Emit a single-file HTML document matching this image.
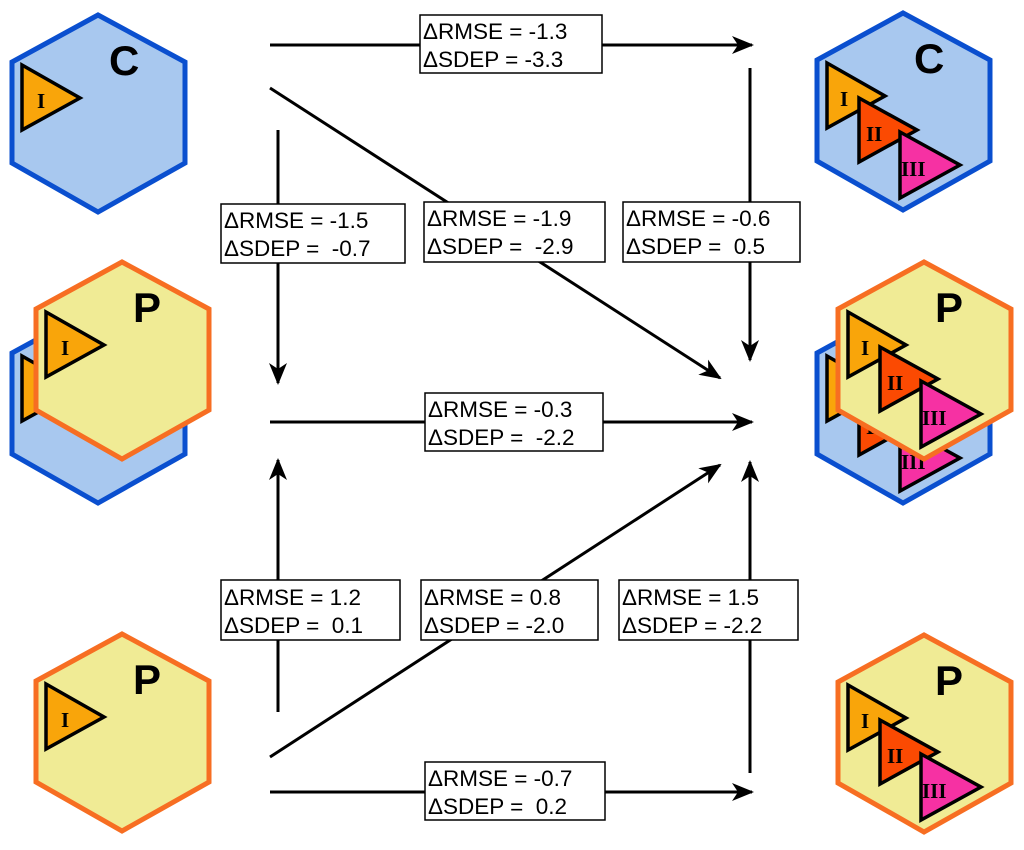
<!DOCTYPE html>
<html><head><meta charset="utf-8"><style>
body{margin:0;background:#fff}
svg text{font-family:"Liberation Sans",sans-serif}
.lb{font-size:22.5px;fill:#000}
.rt{font-family:"Liberation Serif",serif!important;font-weight:bold;font-size:21px}
.big{font-family:"Liberation Sans",sans-serif;font-weight:900;font-size:42px}
</style></head><body>
<svg width="1024" height="845" viewBox="0 0 1024 845" xmlns="http://www.w3.org/2000/svg">
<defs>
<marker id="a" markerWidth="22" markerHeight="18" refX="20" refY="9" orient="auto" markerUnits="userSpaceOnUse" viewBox="0 0 22 18">
<path d="M0,0 L22,9 L0,18 L6,9 Z" fill="#000"/></marker>
<g id="hexC"><polygon points="86,3 173,50 173,151 86,200 0,151 0,50" fill="#a8c8ef" stroke="#0a4fcf" stroke-width="5"/></g>
<g id="hexP"><polygon points="86,3 173,50 173,151 86,200 0,151 0,50" fill="#f0eb95" stroke="#f76e22" stroke-width="5"/></g>
<g id="t1"><polygon points="10,53 68,86 10,118" fill="#f9a50a" stroke="#000" stroke-width="3.5"/>
<text x="25" y="96" class="rt">I</text></g>
<g id="t3">
<polygon points="10,53 68,86 10,118" fill="#f9a50a" stroke="#000" stroke-width="3.5"/>
<text x="23" y="96" class="rt">I</text>
<polygon points="42,88 100,120 42,152" fill="#fb4a02" stroke="#000" stroke-width="3.5"/>
<text x="49" y="131" class="rt">II</text>
<polygon points="83,122 143,155 83,188" fill="#f631a3" stroke="#000" stroke-width="3.5"/>
<text x="84" y="166" class="rt">III</text>
</g>
</defs>

<g transform="translate(12,12)"><use href="#hexC"/><use href="#t1"/><text x="97" y="63" class="big">C</text></g>
<g transform="translate(12,303)"><use href="#hexC"/><use href="#t1"/></g>
<g transform="translate(36,259)"><use href="#hexP"/><use href="#t1"/><text x="97" y="63" class="big">P</text></g>
<g transform="translate(36,631)"><use href="#hexP"/><use href="#t1"/><text x="97" y="63" class="big">P</text></g>

<g transform="translate(817,10)"><use href="#hexC"/><use href="#t3"/><text x="97" y="63" class="big">C</text></g>
<g transform="translate(817,303)"><use href="#hexC"/><use href="#t3"/></g>
<g transform="translate(838,259)"><use href="#hexP"/><use href="#t3"/><text x="97" y="63" class="big">P</text></g>
<g transform="translate(838,632)"><use href="#hexP"/><use href="#t3"/><text x="97" y="63" class="big">P</text></g>

<g stroke="#000" stroke-width="3" fill="none">
<line x1="270" y1="45" x2="752" y2="45" marker-end="url(#a)"/>
<line x1="270" y1="88" x2="720" y2="378" marker-end="url(#a)"/>
<line x1="278" y1="130" x2="278" y2="383" marker-end="url(#a)"/>
<line x1="750" y1="68" x2="750" y2="360" marker-end="url(#a)"/>
<line x1="270" y1="422" x2="752" y2="422" marker-end="url(#a)"/>
<line x1="278" y1="712" x2="278" y2="460" marker-end="url(#a)"/>
<line x1="270" y1="757" x2="720" y2="465" marker-end="url(#a)"/>
<line x1="750" y1="773" x2="750" y2="462" marker-end="url(#a)"/>
<line x1="270" y1="792" x2="752" y2="792" marker-end="url(#a)"/>
</g>

<g>
<rect x="420" y="15" width="182" height="58" fill="#fff" stroke="#000" stroke-width="1.5"/>
<text class="lb" x="423" y="39">ΔRMSE = -1.3</text><text class="lb" x="423" y="67">ΔSDEP = -3.3</text>
<rect x="221" y="204" width="184" height="59" fill="#fff" stroke="#000" stroke-width="1.5"/>
<text class="lb" x="224" y="228">ΔRMSE = -1.5</text><text class="lb" x="224" y="256" xml:space="preserve">ΔSDEP =  -0.7</text>
<rect x="424" y="202" width="181" height="60" fill="#fff" stroke="#000" stroke-width="1.5"/>
<text class="lb" x="427" y="226">ΔRMSE = -1.9</text><text class="lb" x="427" y="254" xml:space="preserve">ΔSDEP =  -2.9</text>
<rect x="623" y="202" width="177" height="60" fill="#fff" stroke="#000" stroke-width="1.5"/>
<text class="lb" x="626" y="226">ΔRMSE = -0.6</text><text class="lb" x="626" y="254" xml:space="preserve">ΔSDEP =  0.5</text>
<rect x="425" y="393" width="178" height="58" fill="#fff" stroke="#000" stroke-width="1.5"/>
<text class="lb" x="428" y="417">ΔRMSE = -0.3</text><text class="lb" x="428" y="445" xml:space="preserve">ΔSDEP =  -2.2</text>
<rect x="221" y="580" width="179" height="60" fill="#fff" stroke="#000" stroke-width="1.5"/>
<text class="lb" x="224" y="605">ΔRMSE = 1.2</text><text class="lb" x="224" y="633" xml:space="preserve">ΔSDEP =  0.1</text>
<rect x="421" y="580" width="177" height="60" fill="#fff" stroke="#000" stroke-width="1.5"/>
<text class="lb" x="424" y="605">ΔRMSE = 0.8</text><text class="lb" x="424" y="633">ΔSDEP = -2.0</text>
<rect x="619" y="580" width="179" height="60" fill="#fff" stroke="#000" stroke-width="1.5"/>
<text class="lb" x="622" y="605">ΔRMSE = 1.5</text><text class="lb" x="622" y="633">ΔSDEP = -2.2</text>
<rect x="425" y="762" width="180" height="58" fill="#fff" stroke="#000" stroke-width="1.5"/>
<text class="lb" x="428" y="786">ΔRMSE = -0.7</text><text class="lb" x="428" y="814" xml:space="preserve">ΔSDEP =  0.2</text>
</g>
</svg>
</body></html>
